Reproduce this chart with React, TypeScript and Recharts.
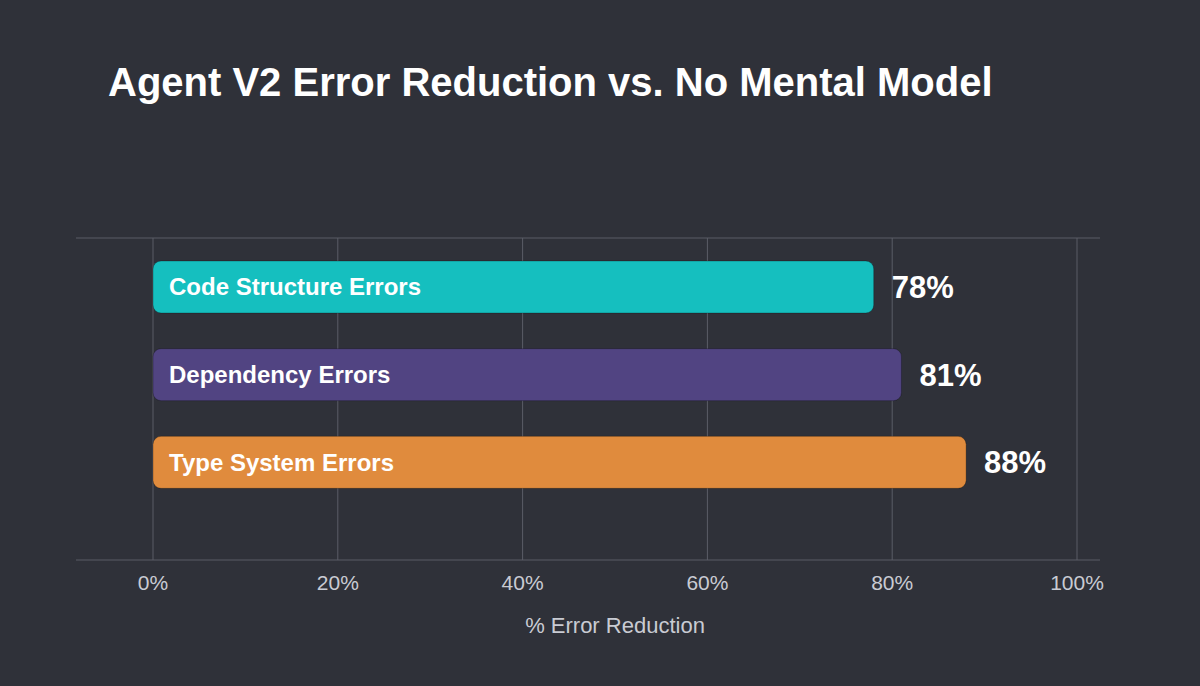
import { Bar, BarChart, CartesianGrid, LabelList, XAxis, YAxis } from "recharts";

const categories = ["Code Structure Errors", "Dependency Errors", "Type System Errors"];
const reductions = [78, 81, 88];
const barColors = ["#15bfbf", "#514482", "#e08b3d"];
const xTicks = [0, 20, 40, 60, 80, 100];

const data = categories.map((name, i) => ({ name, value: reductions[i], fill: barColors[i] }));

const FONT = '"Liberation Sans", Arial, Helvetica, sans-serif';
const WIDTH = 1200;
const MARGIN = { top: 238, right: 100, bottom: 96, left: 76 };
const PAD_LEFT = 77;
const PAD_RIGHT = 23;
const GRID = "#5b5d67";

// grid: only the tick lines, no lines on the plot edges
const renderVertical = (props: any) => {
  const { x1, y1, x2, y2 } = props;
  if (x1 <= MARGIN.left + 1 || x1 >= WIDTH - MARGIN.right - 1) return <g key={props.key} />;
  return <line key={props.key} x1={x1} y1={y1} x2={x2} y2={y2} stroke={GRID} strokeWidth={1} />;
};

const renderName = (props: any) => {
  const { x, y, height, value } = props;
  return (
    <text x={x + 16} y={y + height / 2} dy="0.35em" fill="#ffffff" fontSize={24} fontWeight={700} fontFamily={FONT}>
      {value}
    </text>
  );
};

const renderValue = (props: any) => {
  const { x, y, width, height, value } = props;
  return (
    <text x={x + width + 18} y={y + height / 2} dy="0.36em" fill="#ffffff" fontSize={31} fontWeight={700} fontFamily={FONT}>
      {value}%
    </text>
  );
};

const renderAxisLabel = (props: any) => {
  const vb = props.viewBox;
  const cx = vb.x + PAD_LEFT + (vb.width - PAD_LEFT - PAD_RIGHT) / 2;
  return (
    <text x={cx} y={vb.y + 73} textAnchor="middle" fill="#c9cbd3" fontSize={22} fontFamily={FONT}>
      % Error Reduction
    </text>
  );
};

export default function App() {
  return (
    <div
      style={{
        position: "absolute",
        left: 0,
        top: 0,
        width: 1200,
        height: 686,
        background: "#2f3139",
        fontFamily: FONT,
      }}
    >
      <div
        style={{
          position: "absolute",
          left: 108,
          top: 62,
          fontSize: 40,
          lineHeight: "40px",
          fontWeight: 700,
          color: "#ffffff",
          whiteSpace: "nowrap",
        }}
      >
        Agent V2 Error Reduction vs. No Mental Model
      </div>
      <div style={{ position: "absolute", left: 0, top: 0 }}>
        <BarChart width={WIDTH} height={686} data={data} layout="vertical" margin={MARGIN}>
          <CartesianGrid stroke={GRID} strokeWidth={1} horizontalPoints={[238]} vertical={renderVertical} />
          <XAxis
            type="number"
            domain={[0, 100]}
            ticks={xTicks}
            tickFormatter={(v: number) => `${v}%`}
            padding={{ left: PAD_LEFT, right: PAD_RIGHT }}
            tick={{ fill: "#c9cbd3", fontSize: 21, fontFamily: FONT }}
            tickLine={false}
            tickSize={0}
            tickMargin={15}
            axisLine={{ stroke: GRID }}
            label={{ content: renderAxisLabel }}
          />
          <YAxis type="category" dataKey="name" hide padding={{ top: 5, bottom: 54 }} />
          <Bar
            dataKey="value"
            barSize={52}
            radius={8}
            stroke="rgba(0,0,0,0.25)"
            strokeWidth={1}
            isAnimationActive={false}
          >
            <LabelList dataKey="name" content={renderName} />
            <LabelList dataKey="value" content={renderValue} />
          </Bar>
        </BarChart>
      </div>
    </div>
  );
}
